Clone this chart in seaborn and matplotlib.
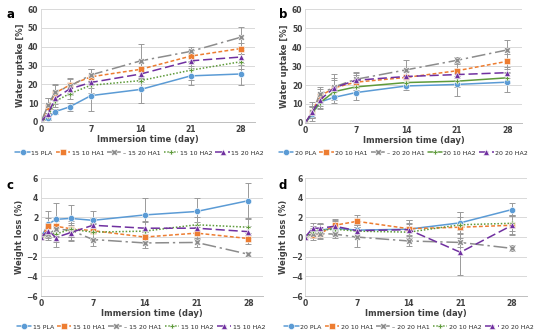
import numpy as np
import pandas as pd
import matplotlib
matplotlib.use("Agg")
import matplotlib.pyplot as plt
import seaborn as sns

# Immersion time points (day)
days = [0, 1, 2, 4, 7, 14, 21, 28]

# Panel a: water uptake, 15 series
a_names = ["15 PLA", "15 10 HA1", "\u2013 15 20 HA1", "15 10 HA2", "15 20 HA2"]
a_pla = [0, 2.0, 5.5, 8.0, 14.0, 17.3, 24.5, 25.5]
a_pla_err = [0, 1.0, 1.5, 2.0, 8.0, 7.0, 5.0, 6.0]
a_10ha1 = [0, 8.0, 15.5, 19.5, 24.0, 28.0, 35.0, 39.0]
a_10ha1_err = [0, 5.0, 4.0, 4.0, 4.0, 5.0, 3.0, 3.0]
a_20ha1 = [0, 9.0, 16.0, 19.0, 25.0, 32.5, 37.5, 45.0]
a_20ha1_err = [0, 4.0, 4.0, 4.0, 3.0, 9.0, 2.5, 5.5]
a_10ha2 = [0, 3.0, 11.0, 15.0, 19.5, 22.0, 27.5, 32.0]
a_10ha2_err = [0, 2.0, 3.0, 3.0, 4.0, 5.0, 5.0, 4.0]
a_20ha2 = [0, 4.5, 12.5, 17.5, 21.0, 25.5, 32.5, 34.5]
a_20ha2_err = [0, 3.0, 3.0, 3.0, 3.0, 4.0, 4.0, 4.0]

# Panel b: water uptake, 20 series
b_names = ["20 PLA", "20 10 HA1", "\u2013 20 20 HA1", "20 10 HA2", "20 20 HA2"]
b_pla = [0, 4.5, 11.0, 13.5, 16.0, 19.5, 20.3, 21.5]
b_pla_err = [0, 2.0, 3.0, 3.0, 4.0, 2.0, 6.0, 5.0]
b_10ha1 = [0, 6.0, 14.0, 18.5, 21.5, 24.0, 27.5, 32.5]
b_10ha1_err = [0, 3.0, 4.0, 5.0, 4.0, 3.0, 4.0, 4.0]
b_20ha1 = [0, 6.0, 15.0, 19.0, 23.0, 28.0, 33.0, 38.5]
b_20ha1_err = [0, 5.0, 4.0, 7.0, 4.0, 5.0, 2.0, 5.0]
b_10ha2 = [0, 5.5, 10.5, 16.5, 19.0, 21.3, 22.0, 23.8]
b_10ha2_err = [0, 3.0, 3.0, 3.0, 3.0, 2.0, 3.0, 3.0]
b_20ha2 = [0, 6.0, 12.0, 18.5, 22.5, 24.5, 25.5, 26.5]
b_20ha2_err = [0, 3.0, 3.0, 4.0, 4.0, 3.0, 3.0, 3.0]

# Panel c: weight loss, 15 series
c_names = ["15 PLA", "15 10 HA1", "\u2013 15 20 HA1", "15 10 HA2", "15 10 HA2 "]
c_pla = [0, 1.3, 1.8, 1.9, 1.7, 2.25, 2.6, 3.7]
c_pla_err = [0, 1.4, 1.7, 1.4, 1.0, 1.7, 1.4, 1.8]
c_10ha1 = [0, 1.1, 1.1, 0.85, 0.65, 0.0, 0.4, -0.15]
c_10ha1_err = [0, 0.8, 0.8, 0.8, 0.8, 0.5, 0.6, 0.6]
c_20ha1 = [0, 0.3, 0.8, 0.7, -0.25, -0.6, -0.55, -1.75]
c_20ha1_err = [0, 0.6, 0.8, 0.7, 0.7, 0.5, 0.5, 0.2]
c_10ha2 = [0, 0.5, 0.3, 0.8, 0.5, 0.6, 1.25, 1.0]
c_10ha2_err = [0, 0.5, 0.8, 1.2, 0.8, 1.0, 0.8, 0.8]
c_20ha2 = [0, 0.65, -0.05, 0.45, 1.2, 0.9, 0.9, 0.55]
c_20ha2_err = [0, 0.5, 1.0, 0.8, 0.7, 0.6, 0.6, 0.6]

# Panel d: weight loss, 20 series
d_names = ["20 PLA", "20 10 HA1", "\u2013 20 20 HA1", "20 10 HA2", "20 20 HA2"]
d_pla = [0, 0.4, 0.7, 0.9, 0.7, 0.8, 1.45, 2.8]
d_pla_err = [0, 0.5, 0.6, 0.7, 0.6, 0.6, 1.1, 0.7]
d_10ha1 = [0, 0.2, 0.35, 1.2, 1.6, 0.85, 1.0, 1.2]
d_10ha1_err = [0, 0.5, 0.5, 0.6, 0.6, 0.9, 1.5, 0.9]
d_20ha1 = [0, 0.3, 0.35, 0.3, 0.0, -0.4, -0.55, -1.15]
d_20ha1_err = [0, 0.4, 0.4, 0.4, 1.0, 0.5, 0.5, 0.3]
d_10ha2 = [0, 0.6, 0.7, 0.8, 0.6, 0.5, 1.25, 1.4]
d_10ha2_err = [0, 0.5, 0.6, 0.5, 0.6, 0.8, 0.8, 0.8]
d_20ha2 = [0, 0.9, 0.9, 1.1, 0.65, 0.75, -1.55, 1.2]
d_20ha2_err = [0, 0.5, 0.5, 0.6, 0.6, 1.0, 2.3, 1.0]

colors = ["#5B9BD5", "#ED7D31", "#8C8C8C", "#5E9A3A", "#7030A0"]
markers = ["o", "s", "X", "P", "^"]
msizes = [4.5, 5, 4.5, 3.5, 4.5]
dash_dotted = ["", (2.5, 1.5), (9, 2.5, 1.5, 2.5), (1, 1.2), (6, 2.5)]
dash_solidg = ["", (2.5, 1.5), (9, 2.5, 1.5, 2.5), "", (6, 2.5)]

panels = [
    ("a", a_names, [a_pla, a_10ha1, a_20ha1, a_10ha2, a_20ha2],
     [a_pla_err, a_10ha1_err, a_20ha1_err, a_10ha2_err, a_20ha2_err],
     "Water uptake [%]", (0, 60), 10, dash_dotted),
    ("b", b_names, [b_pla, b_10ha1, b_20ha1, b_10ha2, b_20ha2],
     [b_pla_err, b_10ha1_err, b_20ha1_err, b_10ha2_err, b_20ha2_err],
     "Water uptake [%]", (0, 60), 10, dash_solidg),
    ("c", c_names, [c_pla, c_10ha1, c_20ha1, c_10ha2, c_20ha2],
     [c_pla_err, c_10ha1_err, c_20ha1_err, c_10ha2_err, c_20ha2_err],
     "Weight loss (%)", (-6, 6), 2, dash_dotted),
    ("d", d_names, [d_pla, d_10ha1, d_20ha1, d_10ha2, d_20ha2],
     [d_pla_err, d_10ha1_err, d_20ha1_err, d_10ha2_err, d_20ha2_err],
     "Weight loss (%)", (-6, 6), 2, dash_dotted),
]

# axes rectangles [left, bottom, width, height] and legend anchors
rects = [
    [0.074, 0.637, 0.386, 0.336],
    [0.551, 0.634, 0.391, 0.339],
    [0.074, 0.119, 0.401, 0.351],
    [0.551, 0.119, 0.400, 0.351],
]
legend_anchor = [(0.252, 0.545), (0.728, 0.545), (0.256, 0.027), (0.738, 0.027)]
letter_pos = [(0.012, 0.975), (0.503, 0.975), (0.012, 0.468), (0.503, 0.468)]

sns.set_theme(style="white")
plt.rcParams["font.family"] = ["DejaVu Sans"]

fig = plt.figure(figsize=(5.54, 3.36), dpi=100)

for i, (letter, names, series, errs, ylabel, ylim, ystep, dashes) in enumerate(panels):
    ax = fig.add_axes(rects[i])
    df = pd.DataFrame({
        "day": np.tile(days, len(names)),
        "value": np.concatenate(series),
        "series": np.repeat(names, len(days)),
    })
    sns.lineplot(data=df, x="day", y="value", hue="series", style="series",
                 hue_order=names, style_order=names,
                 palette=dict(zip(names, colors)),
                 dashes=dict(zip(names, dashes)),
                 markers=dict(zip(names, markers)),
                 lw=1.1, markeredgewidth=0.4, ax=ax, legend=False)
    for ln, ms in zip(ax.get_lines(), msizes):
        ln.set_markersize(ms)
    for vals, err in zip(series, errs):
        ax.errorbar(days, vals, yerr=err, fmt="none", ecolor="#9a9a9a",
                    elinewidth=0.7, capsize=2, capthick=0.7, zorder=1)

    ax.set_xlim(0, 30)
    ax.set_ylim(*ylim)
    ax.set_xticks([0, 7, 14, 21, 28])
    ax.set_yticks(np.arange(ylim[0], ylim[1] + 0.1, ystep))
    ax.yaxis.grid(True, color="#d9d9d9", lw=0.7)
    ax.xaxis.grid(False)
    for s in ["top", "right"]:
        ax.spines[s].set_visible(False)
    ax.spines["left"].set_color("#d9d9d9")
    ax.spines["bottom"].set_color("#bfbfbf")
    ax.spines["left"].set_linewidth(0.7)
    ax.spines["bottom"].set_linewidth(0.7)
    ax.tick_params(axis="both", labelsize=5.5, colors="#404040", length=0, pad=2)
    for t in ax.get_xticklabels() + ax.get_yticklabels():
        t.set_fontweight("bold")
    ax.set_xlabel("Immersion time (day)", fontsize=6, fontweight="bold",
                  color="#404040", labelpad=1)
    ax.set_ylabel(ylabel, fontsize=6, fontweight="bold", color="#404040",
                  labelpad=2)

    fig.text(*letter_pos[i], letter, fontsize=8.5, fontweight="bold",
             ha="left", va="top", color="black")

    handles = ax.get_lines()[:len(names)]
    fig.legend(handles, names, loc="center", bbox_to_anchor=legend_anchor[i],
               ncol=5, frameon=False, fontsize=4.5, handlelength=2.3,
               handletextpad=0.25, columnspacing=0.5, borderaxespad=0,
               borderpad=0)

fig.savefig("out.png", dpi=100)
